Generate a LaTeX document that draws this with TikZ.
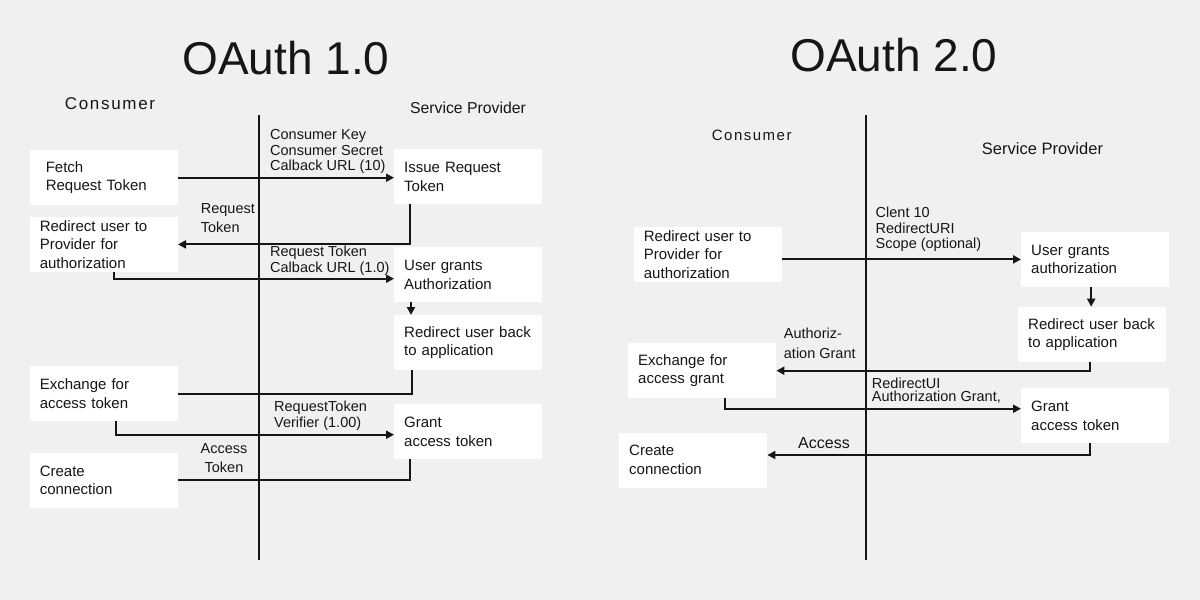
\documentclass[tikz,border=0pt]{standalone}
\usepackage{fontspec}
\setmainfont{Liberation Sans}
\newfontfamily\spacedfont[LetterSpace=10]{Liberation Sans}
\definecolor{pagegray}{RGB}{240,240,240}
\definecolor{inkblack}{RGB}{22,22,22}
\usetikzlibrary{arrows.meta, positioning}

\begin{document}
\begin{tikzpicture}[
  x=1pt, y=-1pt,
  every node/.style={text=inkblack},
  box/.style={fill=white, anchor=north west, minimum width=148pt, minimum height=55pt, text width=128pt, inner xsep=10pt, align=left, font=\fontsize{15}{18.5}\selectfont},
  lbl/.style={anchor=west, inner sep=0pt, align=left, font=\fontsize{14.5}{15.5}\selectfont},
  head/.style={inner sep=0pt, font=\fontsize{46}{50}\selectfont},
  side/.style={inner sep=0pt, font=\fontsize{16}{18}\selectfont},
  arr/.style={-{Triangle[length=8pt, width=8pt]}, line width=2pt, inkblack},
  link/.style={line width=2pt, inkblack},
  lane/.style={line width=2.5pt, inkblack}
]
  \fill[pagegray] (0,0) rectangle (1200,600);

  % OAuth 1.0
  \node[head] (title1) at (286,58) {OAuth 1.0};
  \node[side, font=\spacedfont\fontsize{17}{18}\selectfont] (cons1) at (110,104) {Consumer};
  \node[side, font=\fontsize{15.8}{18}\selectfont] (prov1) at (468,108) {Service Provider};
  \coordinate (top1) at (259,115);
  \coordinate (bot1) at (259,560);
  \draw[lane] (top1) -- (bot1);

  \node[box, inner xsep=16pt, text width=116pt] (fetch) at (29.6,150) {Fetch\\Request Token};
  \node[box] (issue) at (394,149) {Issue Request\\Token};
  \node[box] (redir1) at (29.6,216.7) {Redirect user to\\Provider for\\authorization};
  \node[box] (user1) at (394,247) {User grants\\Authorization};
  \node[box] (back1) at (394,315) {Redirect user back\\to application};
  \node[box] (exch1) at (29.6,366) {Exchange for\\access token};
  \node[box] (grant1) at (394,404) {Grant\\access token};
  \node[box] (create1) at (29.6,452.7) {Create\\connection};

  \node[lbl] (keys) at (270,151.5) {Consumer Key\\Consumer Secret\\Calback URL (10)};
  \node[lbl, font=\fontsize{14.5}{18.7}\selectfont] (reqtok) at (200.7,218.3) {Request\\Token};
  \node[lbl] (reqcb) at (270,260.5) {Request Token\\Calback URL (1.0)};
  \node[lbl] (verif) at (274,415.5) {RequestToken\\Verifier (1.00)};
  \node[lbl, anchor=center, align=center, font=\fontsize{14.5}{19}\selectfont] (acctok) at (224,458.5) {Access\\Token};

  \draw[arr] (fetch.east) -- (fetch.east -| issue.west);
  \draw[arr] ([xshift=16pt]issue.south west) |- (redir1.east);
  \draw[arr] ([xshift=84pt]redir1.south west) |- ([yshift=-4pt]user1.west);
  \draw[arr] ([xshift=17pt]user1.south west) -- ([xshift=17pt]back1.north west);
  \draw[link] ([xshift=18pt]back1.south west) |- (exch1.east);
  \draw[arr] ([xshift=86pt]exch1.south west) |- ([yshift=-3pt]grant1.west);
  \draw[link] ([xshift=16pt]grant1.south west) |- (create1.east);

  % OAuth 2.0
  \node[head] (title2) at (894,55) {OAuth 2.0};
  \node[side, font=\spacedfont\fontsize{15}{18}\selectfont] (cons2) at (751.7,135.7) {Consumer};
  \node[side, font=\fontsize{16.5}{18}\selectfont] (prov2) at (1042.5,149) {Service Provider};
  \coordinate (top2) at (866,115);
  \coordinate (bot2) at (866,560);
  \draw[lane] (top2) -- (bot2);

  \node[box] (redir2) at (633.7,226.7) {Redirect user to\\Provider for\\authorization};
  \node[box] (user2) at (1021,231.7) {User grants\\authorization};
  \node[box] (back2) at (1018,306.7) {Redirect user back\\to application};
  \node[box] (exch2) at (628,343) {Exchange for\\access grant};
  \node[box] (grant2) at (1021,388) {Grant\\access token};
  \node[box] (create2) at (619,432.3) {Create\\connection};

  \node[lbl] (client) at (875.5,229.7) {Clent 10\\RedirectURI\\Scope (optional)};
  \node[lbl, font=\fontsize{14.5}{20}\selectfont] (authgr) at (783.7,343) {Authoriz-\\ation Grant};
  \node[lbl, font=\fontsize{14.5}{13.5}\selectfont] (redui) at (871.7,390.7) {RedirectUI\\Authorization Grant,};
  \node[lbl, font=\fontsize{16}{18}\selectfont] (access) at (798,442.7) {Access};

  \draw[arr] (user2.west -| redir2.east) -- (user2.west);
  \draw[arr] ([xshift=-4pt]user2.south) -- ([xshift=-4pt]user2.south |- back2.north);
  \draw[arr] ([xshift=-2pt]back2.south) |- (exch2.east);
  \draw[arr] ([xshift=97pt]exch2.south west) |- ([yshift=7pt]grant2.west);
  \draw[arr] ([xshift=-5pt]grant2.south) |- ([yshift=5pt]create2.east);
\end{tikzpicture}
\end{document}
